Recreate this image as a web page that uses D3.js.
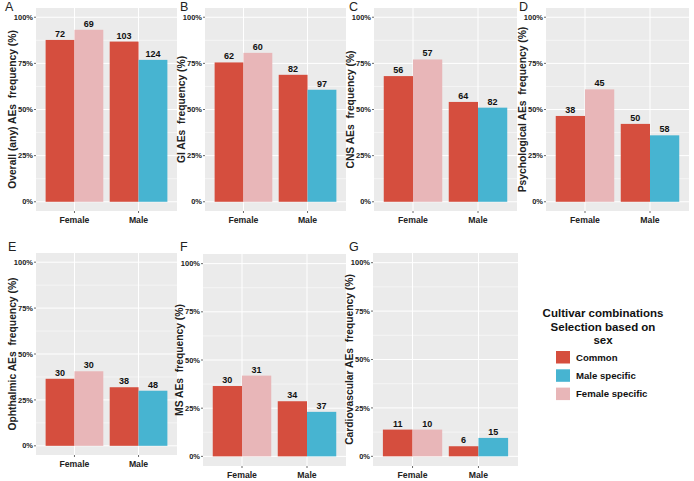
<!DOCTYPE html>
<html>
<head>
<meta charset="utf-8">
<script src="https://cdn.jsdelivr.net/npm/d3@7"></script>
<style>
  body { margin: 0; background: #fff; }
  svg { display: block; font-family: "Liberation Sans", Arial, sans-serif; }
</style>
</head>
<body>
<script>
// Data: one entry per panel A..G
const panelLetters = ["A", "B", "C", "D", "E", "F", "G"];
const yTitles = [
  "Overall (any) AEs  frequency (%)",
  "GI AEs  frequency (%)",
  "CNS AEs  frequency (%)",
  "Psychological AEs  frequency (%)",
  "Ophthalmic AEs  frequency (%)",
  "MS AEs  frequency (%)",
  "Cardiovascular AEs  frequency (%)"
];
const sexes = ["Female", "Male"];
const groups = ["Common", "Male specific", "Female specific"];
const yTicks = [0, 25, 50, 75, 100];

// bar heights (%)
const commonFemalePct = [87.7, 75.5, 68.1, 46.5, 36.5, 36.5, 13.8];
const commonMalePct = [86.8, 68.8, 54.1, 42.2, 31.9, 28.6, 5.2];
const femaleSpecificPct = [93.2, 80.7, 77.1, 60.9, 40.6, 41.9, 13.8];
const maleSpecificPct = [76.9, 60.7, 51.0, 36.0, 30.0, 23.1, 9.5];

// numbers printed above the bars
const commonFemaleN = [72, 62, 56, 38, 30, 30, 11];
const commonMaleN = [103, 82, 64, 50, 38, 34, 6];
const femaleSpecificN = [69, 60, 57, 45, 30, 31, 10];
const maleSpecificN = [124, 97, 82, 58, 48, 37, 15];

const colors = { "Common": "#D54E3E", "Male specific": "#47B4D1", "Female specific": "#E8B6B8" };

const w = 694, h = 481;

// grey panel boxes (layout only)
const boxes = [
  { x0: 36, x1: 177, y0: 8, y1: 211, lx: 5, ly: 10.5 },
  { x0: 205, x1: 346, y0: 8, y1: 211, lx: 180, ly: 10.5 },
  { x0: 374, x1: 517, y0: 8, y1: 211, lx: 349, ly: 10.5 },
  { x0: 546, x1: 689, y0: 8, y1: 211, lx: 519, ly: 10.5 },
  { x0: 36, x1: 177, y0: 253, y1: 455, lx: 8, ly: 251 },
  { x0: 203, x1: 346, y0: 254, y1: 466, lx: 180, ly: 251 },
  { x0: 373, x1: 518, y0: 253, y1: 466, lx: 349, ly: 251 }
];

const svg = d3.select("body").append("svg")
  .attr("width", w)
  .attr("height", h);

panelLetters.forEach((letter, i) => {
  const b = boxes[i];
  // rows for this panel
  const rows = [
    { sex: "Female", group: "Common", pct: commonFemalePct[i], n: commonFemaleN[i], slot: 0 },
    { sex: "Female", group: "Female specific", pct: femaleSpecificPct[i], n: femaleSpecificN[i], slot: 1 },
    { sex: "Male", group: "Common", pct: commonMalePct[i], n: commonMaleN[i], slot: 0 },
    { sex: "Male", group: "Male specific", pct: maleSpecificPct[i], n: maleSpecificN[i], slot: 1 }
  ];

  const x = d3.scaleBand().domain(sexes).range([b.x0, b.x1])
    .paddingInner(0.1).paddingOuter(0.15);
  const xSub = d3.scaleBand().domain([0, 1]).range([0, x.bandwidth()]);
  const y = d3.scaleLinear().domain([-5, 105]).range([b.y1, b.y0]);

  const g = svg.append("g");

  g.append("rect")
    .attr("x", b.x0).attr("y", b.y0)
    .attr("width", b.x1 - b.x0).attr("height", b.y1 - b.y0)
    .attr("fill", "#EBEBEB");

  // minor grid
  g.selectAll(".minor").data([12.5, 37.5, 62.5, 87.5]).enter().append("line")
    .attr("x1", b.x0).attr("x2", b.x1)
    .attr("y1", d => y(d)).attr("y2", d => y(d))
    .attr("stroke", "#fff").attr("stroke-width", 0.5);
  // major grid
  g.selectAll(".major").data(yTicks).enter().append("line")
    .attr("x1", b.x0).attr("x2", b.x1)
    .attr("y1", d => y(d)).attr("y2", d => y(d))
    .attr("stroke", "#fff").attr("stroke-width", 1);
  g.selectAll(".vgrid").data(sexes).enter().append("line")
    .attr("x1", d => x(d) + x.bandwidth() / 2).attr("x2", d => x(d) + x.bandwidth() / 2)
    .attr("y1", b.y0).attr("y2", b.y1)
    .attr("stroke", "#fff").attr("stroke-width", 1);

  // bars
  g.selectAll(".bar").data(rows).enter().append("rect")
    .attr("x", d => x(d.sex) + xSub(d.slot))
    .attr("width", xSub.bandwidth())
    .attr("y", d => y(d.pct))
    .attr("height", d => y(0) - y(d.pct))
    .attr("fill", d => colors[d.group]);

  // counts
  g.selectAll(".lab").data(rows).enter().append("text")
    .attr("x", d => x(d.sex) + xSub(d.slot) + xSub.bandwidth() / 2)
    .attr("y", d => y(d.pct) - 3)
    .attr("text-anchor", "middle")
    .attr("font-size", "9px").attr("font-weight", "bold").attr("fill", "#111")
    .text(d => d.n);

  // y axis
  g.selectAll(".ytick").data(yTicks).enter().append("line")
    .attr("x1", b.x0 - 2).attr("x2", b.x0)
    .attr("y1", d => y(d)).attr("y2", d => y(d))
    .attr("stroke", "#444").attr("stroke-width", 0.8);
  g.selectAll(".ylab").data(yTicks).enter().append("text")
    .attr("x", b.x0 - 3).attr("y", d => y(d))
    .attr("dy", "0.35em")
    .attr("text-anchor", "end")
    .attr("font-size", "7.5px").attr("font-weight", "bold").attr("fill", "#222")
    .text(d => d + "%");

  // x axis
  g.selectAll(".xtick").data(sexes).enter().append("line")
    .attr("x1", d => x(d) + x.bandwidth() / 2).attr("x2", d => x(d) + x.bandwidth() / 2)
    .attr("y1", b.y1).attr("y2", b.y1 + 2)
    .attr("stroke", "#444").attr("stroke-width", 0.8);
  g.selectAll(".xlab").data(sexes).enter().append("text")
    .attr("x", d => x(d) + x.bandwidth() / 2).attr("y", b.y1 + 12)
    .attr("text-anchor", "middle")
    .attr("font-size", "8.7px").attr("font-weight", "bold").attr("fill", "#222")
    .text(d => d);

  // y title (keep the double space)
  g.append("text")
    .attr("transform", "translate(" + (b.x0 - 24) + "," + ((b.y0 + b.y1) / 2) + ") rotate(-90)")
    .attr("text-anchor", "middle")
    .attr("dy", "0.35em")
    .style("white-space", "pre")
    .attr("font-size", "10.3px").attr("font-weight", "bold").attr("fill", "#222")
    .text(yTitles[i]);

  // panel letter
  g.append("text")
    .attr("x", b.lx).attr("y", b.ly)
    .attr("font-size", "12.5px").attr("fill", "#222")
    .text(letter);
});

// legend
const legend = svg.append("g").attr("id", "legend");
["Cultivar combinations", "Selection based on", "sex"].forEach((line, i) => {
  legend.append("text")
    .attr("x", 603).attr("y", 317 + i * 13.7)
    .attr("text-anchor", "middle")
    .attr("font-size", "11.5px").attr("font-weight", "bold").attr("fill", "#111")
    .text(line);
});
groups.forEach((grp, i) => {
  legend.append("rect")
    .attr("x", 556).attr("y", 351 + i * 18.3)
    .attr("width", 14).attr("height", 12.5)
    .attr("fill", colors[grp]);
  legend.append("text")
    .attr("x", 576).attr("y", 357.5 + i * 18.3)
    .attr("dy", "0.35em")
    .attr("font-size", "9.6px").attr("font-weight", "bold").attr("fill", "#111")
    .text(grp);
});
</script>
</body>
</html>
